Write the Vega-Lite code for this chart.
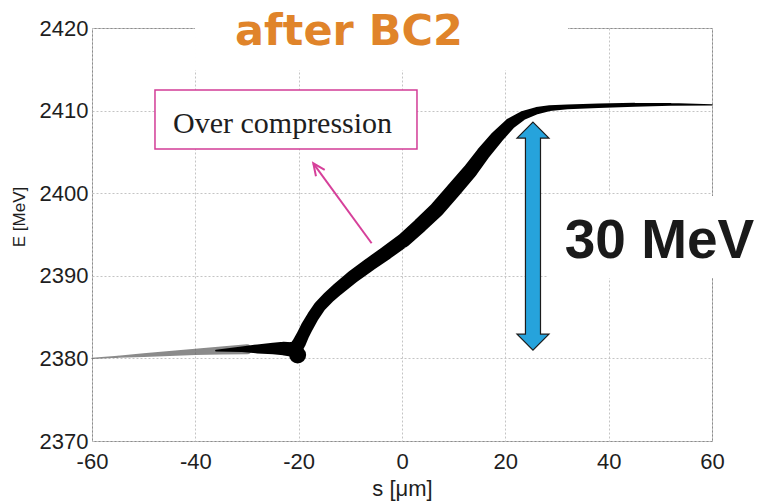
{
  "$schema": "https://vega.github.io/schema/vega-lite/v6.json",
  "width": 620,
  "height": 413,
  "autosize": {"type": "none"},
  "padding": {"left": 92, "top": 28, "right": 47, "bottom": 60},
  "background": "white",
  "config": {
    "view": {"stroke": "#8c8c8c", "strokeWidth": 1},
    "axis": {
      "labelFont": "Liberation Sans",
      "labelFontSize": 22,
      "labelColor": "#1e1e1e",
      "titleFont": "Liberation Sans",
      "titleFontWeight": "normal",
      "titleColor": "#1e1e1e",
      "ticks": false,
      "domain": false,
      "gridColor": "#c4c4c4",
      "gridDash": [2, 2],
      "gridWidth": 1,
      "labelExpr": "datum.value + ''"
    },
    "axisX": {"titleFontSize": 22}
  },
  "datasets": {
    "tail": [
      {"s": -60, "E": 2380.0, "spread": 0.15},
      {"s": -55, "E": 2380.2, "spread": 0.25},
      {"s": -50, "E": 2380.4, "spread": 0.4},
      {"s": -45, "E": 2380.6, "spread": 0.55},
      {"s": -40, "E": 2380.8, "spread": 0.7},
      {"s": -35, "E": 2380.95, "spread": 0.9},
      {"s": -30, "E": 2381.1, "spread": 1.1}
    ],
    "curve": [
      {"s": -36, "E": 2380.95, "spread": 0.2},
      {"s": -31, "E": 2381.1, "spread": 0.6},
      {"s": -28, "E": 2381.15, "spread": 1.0},
      {"s": -25, "E": 2381.2, "spread": 1.3},
      {"s": -23, "E": 2381.2, "spread": 1.5},
      {"s": -21.5, "E": 2381.1, "spread": 1.6},
      {"s": -20.6, "E": 2381.2, "spread": 1.6},
      {"s": -19.9, "E": 2381.9, "spread": 1.5},
      {"s": -19.2, "E": 2382.8, "spread": 1.4},
      {"s": -18.4, "E": 2383.8, "spread": 1.4},
      {"s": -17.2, "E": 2385.1, "spread": 1.35},
      {"s": -15.9, "E": 2386.3, "spread": 1.35},
      {"s": -14.2, "E": 2387.4, "spread": 1.35},
      {"s": -12.6, "E": 2388.3, "spread": 1.4},
      {"s": -9.5, "E": 2389.9, "spread": 1.45},
      {"s": -6.2, "E": 2391.4, "spread": 1.5},
      {"s": -3, "E": 2392.8, "spread": 1.55},
      {"s": 0.3, "E": 2394.3, "spread": 1.6},
      {"s": 3.5, "E": 2396.1, "spread": 1.65},
      {"s": 6.7, "E": 2398.0, "spread": 1.7},
      {"s": 9.9, "E": 2400.3, "spread": 1.7},
      {"s": 13.2, "E": 2402.7, "spread": 1.65},
      {"s": 15.7, "E": 2404.8, "spread": 1.55},
      {"s": 18.4, "E": 2406.8, "spread": 1.45},
      {"s": 20.9, "E": 2408.4, "spread": 1.25},
      {"s": 23.4, "E": 2409.4, "spread": 1.0},
      {"s": 26.1, "E": 2410.0, "spread": 0.8},
      {"s": 28.6, "E": 2410.3, "spread": 0.65},
      {"s": 32, "E": 2410.45, "spread": 0.55},
      {"s": 38, "E": 2410.6, "spread": 0.5},
      {"s": 45, "E": 2410.7, "spread": 0.45},
      {"s": 52, "E": 2410.75, "spread": 0.3},
      {"s": 60, "E": 2410.7, "spread": 0.15}
    ],
    "blob": [{"s": -20.2, "E": 2380.4}]
  },
  "layer": [
    {
      "data": {"name": "tail"},
      "mark": {"type": "trail", "color": "#5a5a5a", "opacity": 0.7},
      "encoding": {
        "x": {"field": "s", "type": "quantitative", "scale": {"domain": [-60, 60], "nice": false},
          "axis": {"title": "s [μm]", "values": [-60, -40, -20, 0, 20, 40, 60], "labelFlush": false, "labelOverlap": false, "labelPadding": 10, "titleFontSize": 22, "titleX": 310, "titleY": 54, "titleBaseline": "alphabetic"}},
        "y": {"field": "E", "type": "quantitative", "scale": {"domain": [2370, 2420], "nice": false},
          "axis": {"title": null, "values": [2370, 2380, 2390, 2400, 2410, 2420], "labelOverlap": false, "labelPadding": 4, "labelFlush": false}},
        "order": {"field": "s", "type": "quantitative"},
        "size": {"field": "spread", "type": "quantitative", "scale": {"domain": [0, 2], "range": [0, 18]}, "legend": null}
      }
    },
    {
      "data": {"name": "curve"},
      "mark": {"type": "trail", "color": "#000000"},
      "encoding": {
        "x": {"field": "s", "type": "quantitative", "scale": {"domain": [-60, 60], "nice": false}},
        "y": {"field": "E", "type": "quantitative", "scale": {"domain": [2370, 2420], "nice": false}},
        "order": {"field": "s", "type": "quantitative"},
        "size": {"field": "spread", "type": "quantitative", "scale": {"domain": [0, 2], "range": [0, 18]}, "legend": null}
      }
    },
    {
      "data": {"name": "blob"},
      "mark": {"type": "point", "shape": "circle", "filled": true, "color": "#000000", "opacity": 1, "size": 290},
      "encoding": {
        "x": {"field": "s", "type": "quantitative", "scale": {"domain": [-60, 60], "nice": false}},
        "y": {"field": "E", "type": "quantitative", "scale": {"domain": [2370, 2420], "nice": false}}
      }
    },
    {
      "data": {"values": [{}]},
      "mark": {"type": "text", "text": "E [MeV]", "font": "Liberation Sans", "fontSize": 17, "color": "#1e1e1e", "align": "center", "baseline": "middle", "angle": 270},
      "encoding": {
        "x": {"datum": -73.94, "type": "quantitative", "scale": {"domain": [-60, 60], "nice": false}},
        "y": {"datum": 2397.12, "type": "quantitative", "scale": {"domain": [2370, 2420], "nice": false}}
      }
    },
    {
      "data": {"values": [{}]},
      "mark": {"type": "rect", "color": "white"},
      "encoding": {
        "x": {"datum": -40.06, "type": "quantitative", "scale": {"domain": [-60, 60], "nice": false}},
        "x2": {"datum": 32.13},
        "y": {"datum": 2414.9, "type": "quantitative", "scale": {"domain": [2370, 2420], "nice": false}},
        "y2": {"datum": 2423.4}
      }
    },
    {
      "data": {"values": [{}]},
      "mark": {"type": "text", "text": "after BC2", "font": "DejaVu Sans", "fontWeight": "bold", "fontSize": 43, "color": "#e0842a", "align": "center", "baseline": "alphabetic"},
      "encoding": {
        "x": {"datum": -10.25, "type": "quantitative", "scale": {"domain": [-60, 60], "nice": false}},
        "y": {"datum": 2417.94, "type": "quantitative", "scale": {"domain": [2370, 2420], "nice": false}}
      }
    },
    {
      "data": {"values": [{}]},
      "mark": {"type": "rect", "fill": "white", "stroke": "#d23c96", "strokeWidth": 1.5},
      "encoding": {
        "x": {"datum": -47.81, "type": "quantitative", "scale": {"domain": [-60, 60], "nice": false}},
        "x2": {"datum": 2.9},
        "y": {"datum": 2412.49, "type": "quantitative", "scale": {"domain": [2370, 2420], "nice": false}},
        "y2": {"datum": 2405.35}
      }
    },
    {
      "data": {"values": [{}]},
      "mark": {"type": "text", "text": "Over compression", "font": "Liberation Serif", "fontSize": 30, "color": "#1e1e1e", "align": "left", "baseline": "alphabetic"},
      "encoding": {
        "x": {"datum": -44.32, "type": "quantitative", "scale": {"domain": [-60, 60], "nice": false}},
        "y": {"datum": 2407.29, "type": "quantitative", "scale": {"domain": [2370, 2420], "nice": false}}
      }
    },
    {
      "data": {"values": [{}]},
      "mark": {"type": "rule", "color": "#d6409a", "strokeWidth": 2},
      "encoding": {
        "x": {"datum": -5.88, "type": "quantitative", "scale": {"domain": [-60, 60], "nice": false}},
        "x2": {"datum": -17.17},
        "y": {"datum": 2393.94, "type": "quantitative", "scale": {"domain": [2370, 2420], "nice": false}},
        "y2": {"datum": 2403.62}
      }
    },
    {
      "data": {"values": [{}]},
      "mark": {"type": "point", "shape": "M-0.45,1L0,0L0.45,1", "filled": false, "stroke": "#d6409a", "strokeWidth": 2, "opacity": 1, "size": 576, "angle": -36},
      "encoding": {
        "x": {"datum": -17.17, "type": "quantitative", "scale": {"domain": [-60, 60], "nice": false}},
        "y": {"datum": 2403.62, "type": "quantitative", "scale": {"domain": [2370, 2420], "nice": false}}
      }
    },
    {
      "data": {"values": [{}]},
      "mark": {"type": "rect", "color": "white"},
      "encoding": {
        "x": {"datum": 28.26, "type": "quantitative", "scale": {"domain": [-60, 60], "nice": false}},
        "x2": {"datum": 69.1},
        "y": {"datum": 2399.66, "type": "quantitative", "scale": {"domain": [2370, 2420], "nice": false}},
        "y2": {"datum": 2389.73}
      }
    },
    {
      "data": {"values": [{}]},
      "mark": {"type": "text", "text": "30 MeV", "font": "Liberation Sans", "fontWeight": "bold", "fontSize": 55, "color": "#1a1a1a", "align": "center", "baseline": "alphabetic"},
      "encoding": {
        "x": {"datum": 49.84, "type": "quantitative", "scale": {"domain": [-60, 60], "nice": false}},
        "y": {"datum": 2392.15, "type": "quantitative", "scale": {"domain": [2370, 2420], "nice": false}}
      }
    },
    {
      "data": {"values": [{}]},
      "mark": {"type": "point", "shape": "M0,-1L0.14,-0.86L0.066,-0.86L0.066,0.86L0.14,0.86L0,1L-0.14,0.86L-0.066,0.86L-0.066,-0.86L-0.14,-0.86Z", "filled": true, "fill": "#26a3dc", "stroke": "#1b1b1b", "strokeWidth": 1.2, "opacity": 1, "size": 51984},
      "encoding": {
        "x": {"datum": 25.35, "type": "quantitative", "scale": {"domain": [-60, 60], "nice": false}},
        "y": {"datum": 2394.8, "type": "quantitative", "scale": {"domain": [2370, 2420], "nice": false}}
      }
    }
  ]
}
